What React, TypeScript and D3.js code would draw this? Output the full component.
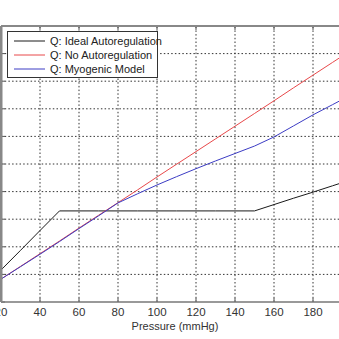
import React from "react";
import * as d3 from "d3";

const pressure = [20, 30, 40, 50, 60, 70, 80, 90, 100, 110, 120, 130, 140, 150, 160, 170, 180, 190, 200];
const idealQ = [1.16, 1.87, 2.59, 3.3, 3.3, 3.3, 3.3, 3.3, 3.3, 3.3, 3.3, 3.3, 3.3, 3.3, 3.53, 3.76, 3.98, 4.21, 4.44];
const noAutoQ = [0.83, 1.29, 1.75, 2.21, 2.68, 3.14, 3.6, 4.06, 4.53, 4.99, 5.45, 5.91, 6.37, 6.83, 7.29, 7.76, 8.22, 8.68, 9.14];
const myogenicQ = [0.83, 1.28, 1.73, 2.19, 2.66, 3.12, 3.59, 3.92, 4.24, 4.54, 4.83, 5.11, 5.38, 5.65, 5.98, 6.38, 6.78, 7.15, 7.52];
const xTicks = [20, 40, 60, 80, 100, 120, 140, 160, 180, 200];
const xTickLabels = [20, 40, 60, 80, 100, 120, 140, 160, 180];
const yTicks = [0, 1, 2, 3, 4, 5, 6, 7, 8, 9, 10];
const seriesNames = ["Q: Ideal Autoregulation", "Q: No Autoregulation", "Q: Myogenic Model"];
const seriesColors = ["#1a1a1a", "#e8484a", "#3c3cc4"];

export default function App() {
  const W = 339, H = 339;
  const x = d3.scaleLinear().domain([20, 200]).range([1, 352]);
  const y = d3.scaleLinear().domain([0, 10]).range([302, 26]);
  const line = d3.line<[number, number]>().x(d => x(d[0])).y(d => y(d[1]));
  const allSeries = [idealQ, noAutoQ, myogenicQ];
  const font = "'Liberation Sans', Arial, sans-serif";
  return (
    <div style={{ position: "fixed", left: 0, top: 0 }}>
      <svg width={W} height={H} style={{ display: "block", background: "#fff" }}>
        <defs>
          <clipPath id="plot">
            <rect x={x(20)} y={y(10)} width={x(200) - x(20)} height={y(0) - y(10)} />
          </clipPath>
        </defs>
        {xTicks.slice(1, -1).map(t => (
          <line key={"gx" + t} x1={x(t)} x2={x(t)} y1={y(0)} y2={y(10)} stroke="#333" strokeWidth={1} strokeDasharray="1.5,2.2" />
        ))}
        {yTicks.slice(1, -1).map(t => (
          <line key={"gy" + t} x1={x(20)} x2={x(200)} y1={y(t)} y2={y(t)} stroke="#333" strokeWidth={1} strokeDasharray="1.5,2.2" />
        ))}
        {xTicks.map(t => (
          <g key={"tx" + t}>
            <line x1={x(t)} x2={x(t)} y1={y(0)} y2={y(0) - 4} stroke="#555" />
            <line x1={x(t)} x2={x(t)} y1={y(10)} y2={y(10) + 4} stroke="#555" />
          </g>
        ))}
        {yTicks.map(t => (
          <line key={"ty" + t} x1={x(20)} x2={x(20) + 4} y1={y(t)} y2={y(t)} stroke="#555" />
        ))}
        <g clipPath="url(#plot)">
          {allSeries.map((s, i) => (
            <path key={i} d={line(pressure.map((p, j) => [p, s[j]] as [number, number])) || ""} fill="none" stroke={seriesColors[i]} strokeWidth={1} />
          ))}
        </g>
        <line x1={x(20)} x2={x(200)} y1={y(10)} y2={y(10)} stroke="#888" strokeWidth={2} />
        <line x1={x(20)} x2={x(200)} y1={y(0)} y2={y(0)} stroke="#777" strokeWidth={1.5} />
        <line x1={x(20)} x2={x(20)} y1={y(0)} y2={y(10)} stroke="#888" strokeWidth={3} />
        {xTickLabels.map(t => (
          <text key={"lx" + t} x={x(t)} y={316} textAnchor="middle" fontFamily={font} fontSize={11.5} fill="#333">{t}</text>
        ))}
        <text x={175} y={330} textAnchor="middle" fontFamily={font} fontSize={11} fill="#333">Pressure (mmHg)</text>
        <rect x={7.5} y={31.5} width={150} height={46} fill="#fff" stroke="#333" strokeWidth={1} />
        {seriesNames.map((n, i) => (
          <g key={n}>
            <line x1={14} x2={45} y1={41 + i * 14} y2={41 + i * 14} stroke={seriesColors[i]} strokeWidth={1} />
            <text x={50} y={45 + i * 14} fontFamily={font} fontSize={11} fill="#222">{n}</text>
          </g>
        ))}
      </svg>
    </div>
  );
}
